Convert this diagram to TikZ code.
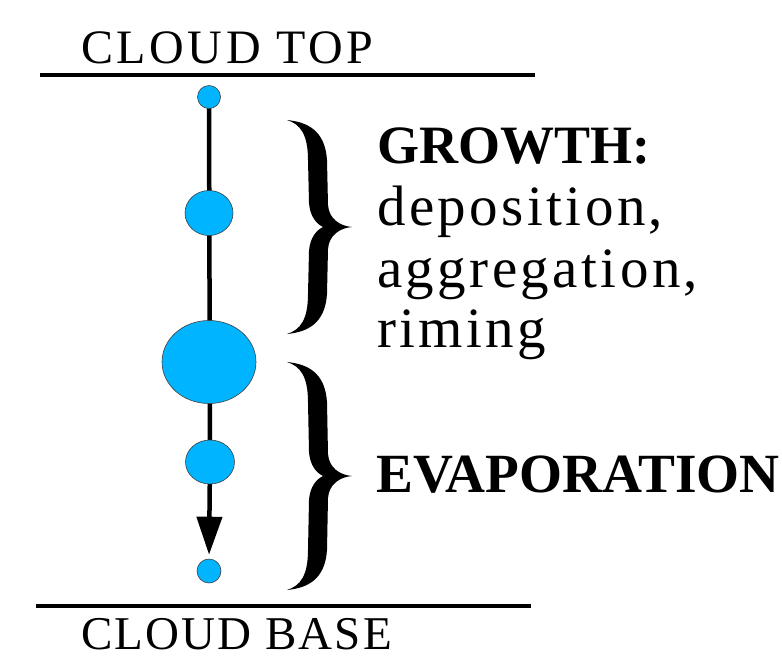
\documentclass[tikz,border=0pt]{standalone}
\usepackage{fontspec}
\setmainfont{Liberation Serif}
\newfontfamily\labelfont{Liberation Serif}[LetterSpace=7.5]
\newfontfamily\basefont{Liberation Serif}[LetterSpace=4.5]
\newfontfamily\procfont{Liberation Serif}[LetterSpace=6]
\usetikzlibrary{arrows.meta,backgrounds,shapes.geometric}
\definecolor{droplet}{RGB}{0,180,255}
\tikzset{
  particle/.style={ellipse, draw=black!75, line width=0.6pt, fill=droplet, inner sep=0pt},
  level/.style={line width=4.5pt},
  path line/.style={line width=4.5pt},
  heading/.style={anchor=base west, inner sep=0pt, font=\fontsize{54}{62}\selectfont\bfseries},
  process/.style={anchor=base west, inner sep=0pt, font=\fontsize{57}{62}\selectfont\procfont},
  boundary/.style={anchor=base west, inner sep=0pt, text depth=0pt},
  curlybrace/.pic={
    % tip at the local origin, arms reaching up and down by \bracehalf
    \fill (-65,-\bracehalf)
      .. controls (-45,-\bracehalf+2) and (-27,-\bracehalf+10) .. (-25,-\bracehalf+40)
      -- (-24,-22)
      .. controls (-23,-8) and (-12,-1) .. (0,0)
      .. controls (-12,1) and (-23,8) .. (-24,22)
      -- (-25,\bracehalf-40)
      .. controls (-27,\bracehalf-10) and (-45,\bracehalf-2) .. (-65,\bracehalf)
      .. controls (-52,\bracehalf-4) and (-44,\bracehalf-14) .. (-44,\bracehalf-40)
      -- (-43,24)
      .. controls (-42,10) and (-35,3) .. (-29,0)
      .. controls (-35,-3) and (-42,-10) .. (-43,-24)
      -- (-44,-\bracehalf+40)
      .. controls (-44,-\bracehalf+14) and (-52,-\bracehalf+4) .. (-65,-\bracehalf)
      -- cycle;
  }
}
\begin{document}
\begin{tikzpicture}[x=1pt,y=-1pt]
\useasboundingbox (0,0) rectangle (782,657);

% cloud boundaries
\coordinate (topL) at (40,75);
\coordinate (topR) at (535,75);
\coordinate (baseL) at (36,606);
\coordinate (baseR) at (531,606);
\draw[level] (topL) -- (topR);
\draw[level] (baseL) -- (baseR);
\node[boundary, font=\fontsize{48}{56}\selectfont\labelfont] (toplabel) at (81,63) {CLOUD TOP};
\node[boundary, font=\fontsize{47}{56}\selectfont\basefont] (baselabel) at (81,649) {CLOUD BASE};

% particles along the fall path
\node[particle, minimum width=23pt, minimum height=23pt] (p1) at (209,97) {};
\node[particle, minimum width=48pt, minimum height=45pt] (p2) at (209,213) {};
\node[particle, minimum width=94pt, minimum height=83pt] (p3) at (209,362) {};
\node[particle, minimum width=49pt, minimum height=44pt] (p4) at (210,462) {};
\node[particle, minimum width=24pt, minimum height=24pt] (p5) at (209,571) {};

\begin{scope}[on background layer]
  \draw[path line] (p1.center) -- (p4.center);
  \draw[path line, -{Triangle[length=38pt, width=25pt]}, shorten >=4pt] (p4.center) -- (p5.north);
\end{scope}

% braces
\def\bracehalf{107}
\pic at (352,227) {curlybrace};
\def\bracehalf{114}
\pic at (352,476) {curlybrace};

% process labels
\node[heading] (growth) at (377,163) {GROWTH:};
\node[process] (dep) at (377,225) {deposition,};
\node[process] (agg) at (377,287) {aggregation,};
\node[process] (rim) at (377,347) {riming};
\node[heading, font=\fontsize{55.3}{62}\selectfont\bfseries] (evap) at (376,492) {EVAPORATION};
\end{tikzpicture}
\end{document}
